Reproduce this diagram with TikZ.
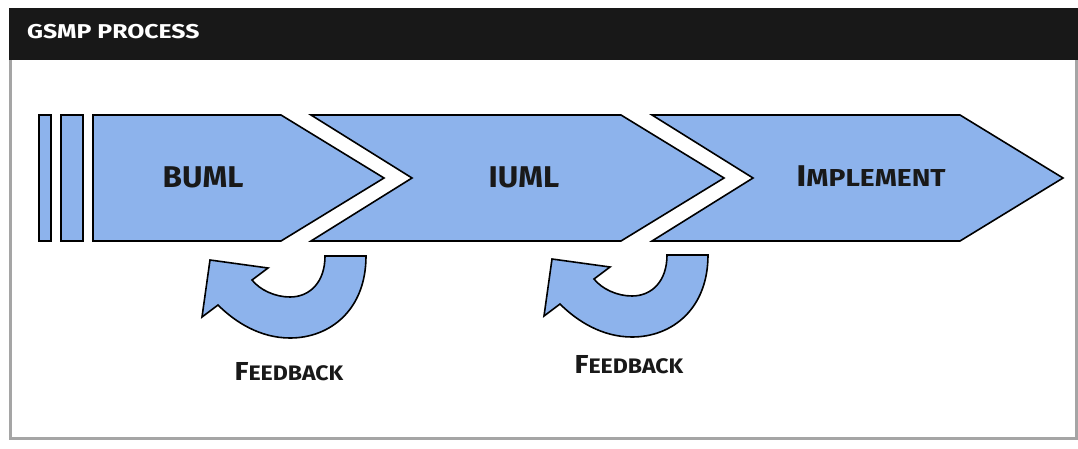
\documentclass[tikz,border=0pt]{standalone}
\usepackage{fontspec}
\setmainfont{Fira Sans}
\definecolor{chev}{RGB}{141,179,236}
\definecolor{hdr}{RGB}{24,24,24}
\definecolor{frm}{RGB}{165,165,165}
\newcommand\bigsz{\fontsize{30}{30}\selectfont}
\newcommand\smsz{\fontsize{24.5}{24.5}\selectfont}
\newcommand\fbig{\fontsize{26}{26}\selectfont}
\newcommand\fsm{\fontsize{21}{21}\selectfont}
\begin{document}
\begin{tikzpicture}[x=1pt,y=-1pt,
  blueshape/.style={fill=chev,draw=black,line width=1.6pt,line join=miter},
  lbl/.style={font=\bfseries\bigsz,anchor=base,inner sep=0pt,text=black!90},
  fblbl/.style={font=\bfseries,anchor=base,inner sep=0pt,text=black!90},
  hdrlbl/.style={font=\bfseries\fontsize{20}{20}\selectfont,anchor=base west,inner sep=0pt,text=white}]
\useasboundingbox (0,0) rectangle (1078,449);
\fill[white] (0,0) rectangle (1078,449);
% frame
\draw[frm,line width=3pt] (10.5,58) -- (10.5,438) -- (1076,438) -- (1076,58);
\fill[hdr] (9,8) rectangle (1078,60);
\node[hdrlbl] (title) at (27,39) {\scalebox{1.24}[1]{GSMP PROCESS}};
% bars
\draw[blueshape] (39,115) rectangle (51,241);
\draw[blueshape] (61,115) rectangle (83,241);
% chevrons
\draw[blueshape] (93,115) -- (281,115) -- (384,178) -- (281,241) -- (93,241) -- cycle;
\draw[blueshape] (311,115) -- (621,115) -- (724,178) -- (621,241) -- (311,241) -- (412,178) -- cycle;
\draw[blueshape] (652,115) -- (960,115) -- (1063,178) -- (960,241) -- (652,241) -- (753,178) -- cycle;
\node[lbl] (buml) at (203,187) {\scalebox{1.05}[1]{BUML}};
\node[lbl] (iuml) at (524,187) {\scalebox{1.05}[1]{IUML}};
\node[fblbl] (impl) at (871,186) {\scalebox{1.15}[1]{\bigsz I\smsz MPLEMENT}};
% feedback arrows
\foreach \dx/\dy in {0/0,342/-1}{
\begin{scope}[shift={(\dx,\dy)}]
\draw[blueshape] (325,256) -- (366,256)
  .. controls (366,310) and (330,338) .. (290,338)
  .. controls (260,338) and (235,322) .. (218,305)
  -- (202,317) -- (210,260) -- (268,268) -- (252,280)
  .. controls (260,290) and (275,297) .. (290,297)
  .. controls (310,297) and (325,282) .. (325,256) -- cycle;
\end{scope}}
\node[fblbl] (fb1) at (289,380) {\scalebox{1.1}[1]{\fbig F\fsm EEDBACK}};
\node[fblbl] (fb2) at (629,373) {\scalebox{1.1}[1]{\fbig F\fsm EEDBACK}};
\end{tikzpicture}
\end{document}
